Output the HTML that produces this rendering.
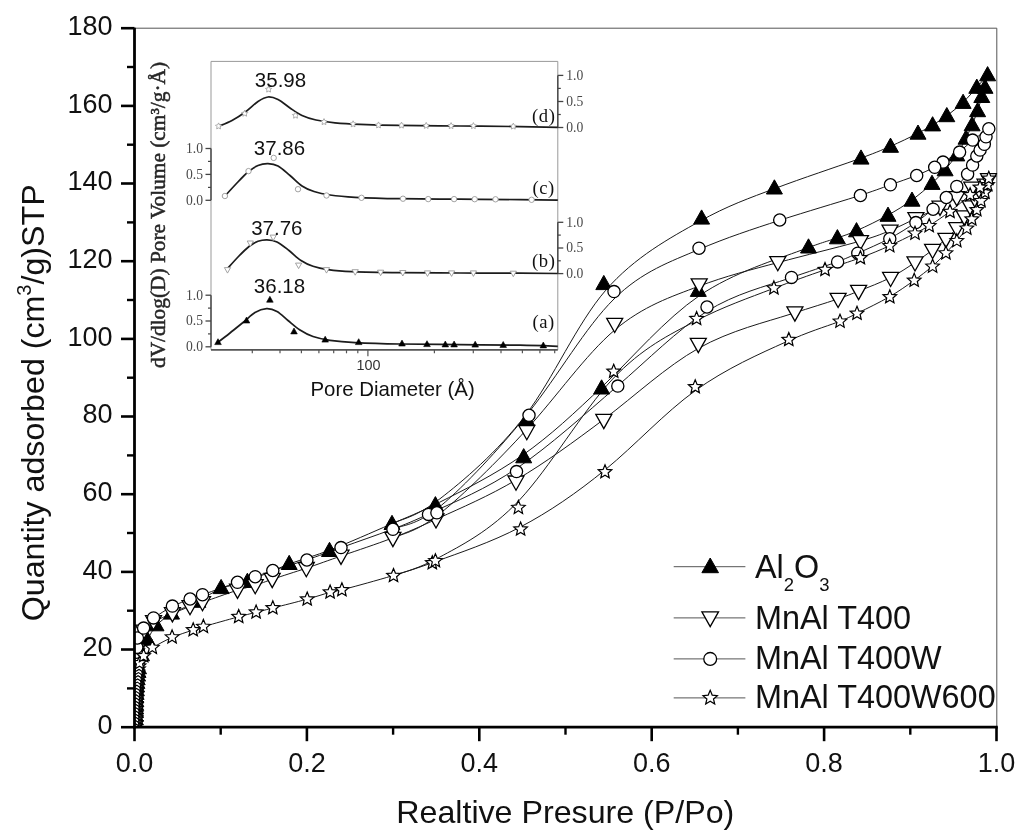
<!DOCTYPE html>
<html><head><meta charset="utf-8"><title>N2 adsorption isotherms</title>
<style>
html,body{margin:0;padding:0;background:#fff;}
body{width:1024px;height:839px;overflow:hidden;position:relative;font-family:"Liberation Sans",sans-serif;}
</style></head><body>
<svg width="1024" height="839" viewBox="0 0 1024 839" style="position:absolute;left:0;top:0;filter:blur(0.55px)">
<rect width="1024" height="839" fill="#fff"/>
<path d="M134.5,28.2 H996.8 V727.2" fill="none" stroke="#555" stroke-width="1"/>
<g id="inset">
<path d="M211.0,349.8 V61.4 H557.8 V349.8" fill="none" stroke="#999" stroke-width="1"/>
<path d="M211.0,349.8 H557.8" fill="none" stroke="#555" stroke-width="1.8"/>
<path d="M252.3,349.8 v3.5" stroke="#555" stroke-width="1.2"/>
<path d="M280.0,349.8 v3.5" stroke="#555" stroke-width="1.2"/>
<path d="M301.4,349.8 v3.5" stroke="#555" stroke-width="1.2"/>
<path d="M318.9,349.8 v3.5" stroke="#555" stroke-width="1.2"/>
<path d="M333.7,349.8 v3.5" stroke="#555" stroke-width="1.2"/>
<path d="M346.5,349.8 v3.5" stroke="#555" stroke-width="1.2"/>
<path d="M357.8,349.8 v3.5" stroke="#555" stroke-width="1.2"/>
<path d="M367.9,349.8 v6.5" stroke="#555" stroke-width="1.2"/>
<path d="M434.4,349.8 v3.5" stroke="#555" stroke-width="1.2"/>
<path d="M473.3,349.8 v3.5" stroke="#555" stroke-width="1.2"/>
<path d="M501.0,349.8 v3.5" stroke="#555" stroke-width="1.2"/>
<path d="M522.4,349.8 v3.5" stroke="#555" stroke-width="1.2"/>
<path d="M539.9,349.8 v3.5" stroke="#555" stroke-width="1.2"/>
<path d="M554.7,349.8 v3.5" stroke="#555" stroke-width="1.2"/>
<text x="368.6" y="370.4" font-family="Liberation Sans, sans-serif" font-size="14.4" fill="#333" text-anchor="middle">100</text>
<text x="392.6" y="396" font-family="Liberation Sans, sans-serif" font-size="20.4" fill="#111" text-anchor="middle">Pore Diameter (Å)</text>
<path d="M211.0,148.5 V200.3" stroke="#444" stroke-width="1.4"/><path d="M211.0,148.5 h-5.5" stroke="#444" stroke-width="1.3"/><text x="203.0" y="152.9" font-family="Liberation Serif, serif" font-size="13.6" fill="#484848" text-anchor="end">1.0</text><path d="M211.0,174.4 h-5.5" stroke="#444" stroke-width="1.3"/><text x="203.0" y="178.8" font-family="Liberation Serif, serif" font-size="13.6" fill="#484848" text-anchor="end">0.5</text><path d="M211.0,200.3 h-5.5" stroke="#444" stroke-width="1.3"/><text x="203.0" y="204.7" font-family="Liberation Serif, serif" font-size="13.6" fill="#484848" text-anchor="end">0.0</text><path d="M211.0,161.4 h-3.0" stroke="#444" stroke-width="1.2"/><path d="M211.0,187.4 h-3.0" stroke="#444" stroke-width="1.2"/>
<path d="M211.0,295.2 V346.8" stroke="#444" stroke-width="1.4"/><path d="M211.0,295.2 h-5.5" stroke="#444" stroke-width="1.3"/><text x="203.0" y="299.6" font-family="Liberation Serif, serif" font-size="13.6" fill="#484848" text-anchor="end">1.0</text><path d="M211.0,321.0 h-5.5" stroke="#444" stroke-width="1.3"/><text x="203.0" y="325.4" font-family="Liberation Serif, serif" font-size="13.6" fill="#484848" text-anchor="end">0.5</text><path d="M211.0,346.8 h-5.5" stroke="#444" stroke-width="1.3"/><text x="203.0" y="351.2" font-family="Liberation Serif, serif" font-size="13.6" fill="#484848" text-anchor="end">0.0</text><path d="M211.0,308.1 h-3.0" stroke="#444" stroke-width="1.2"/><path d="M211.0,333.9 h-3.0" stroke="#444" stroke-width="1.2"/>
<path d="M557.8,75.4 V127.5" stroke="#444" stroke-width="1.4"/><path d="M557.8,75.4 h5.5" stroke="#444" stroke-width="1.3"/><text x="566.3" y="79.8" font-family="Liberation Serif, serif" font-size="13.6" fill="#484848" text-anchor="start">1.0</text><path d="M557.8,101.5 h5.5" stroke="#444" stroke-width="1.3"/><text x="566.3" y="105.9" font-family="Liberation Serif, serif" font-size="13.6" fill="#484848" text-anchor="start">0.5</text><path d="M557.8,127.5 h5.5" stroke="#444" stroke-width="1.3"/><text x="566.3" y="131.9" font-family="Liberation Serif, serif" font-size="13.6" fill="#484848" text-anchor="start">0.0</text><path d="M557.8,88.4 h3.0" stroke="#444" stroke-width="1.2"/><path d="M557.8,114.5 h3.0" stroke="#444" stroke-width="1.2"/>
<path d="M557.8,222.3 V273.6" stroke="#444" stroke-width="1.4"/><path d="M557.8,222.3 h5.5" stroke="#444" stroke-width="1.3"/><text x="566.3" y="226.7" font-family="Liberation Serif, serif" font-size="13.6" fill="#484848" text-anchor="start">1.0</text><path d="M557.8,248.0 h5.5" stroke="#444" stroke-width="1.3"/><text x="566.3" y="252.4" font-family="Liberation Serif, serif" font-size="13.6" fill="#484848" text-anchor="start">0.5</text><path d="M557.8,273.6 h5.5" stroke="#444" stroke-width="1.3"/><text x="566.3" y="278.0" font-family="Liberation Serif, serif" font-size="13.6" fill="#484848" text-anchor="start">0.0</text><path d="M557.8,235.1 h3.0" stroke="#444" stroke-width="1.2"/><path d="M557.8,260.8 h3.0" stroke="#444" stroke-width="1.2"/>
<path d="M218.0,126.5 C220.3,125.5 227.3,123.0 232.0,120.5 C236.7,118.0 241.7,114.7 246.0,111.5 C250.3,108.3 254.3,103.9 258.0,101.5 C261.7,99.1 264.7,97.3 268.0,97.0 C271.3,96.7 274.3,97.7 278.0,99.5 C281.7,101.3 286.0,105.3 290.0,108.0 C294.0,110.7 297.7,113.5 302.0,115.5 C306.3,117.5 310.5,118.8 316.0,120.0 C321.5,121.2 327.7,122.1 335.0,122.8 C342.3,123.5 349.2,123.9 360.0,124.3 C370.8,124.7 383.3,125.1 400.0,125.4 C416.7,125.7 440.0,125.8 460.0,126.0 C480.0,126.2 503.7,126.4 520.0,126.6 C536.3,126.8 551.5,127.2 557.8,127.3" fill="none" stroke="#1c1c1c" stroke-width="1.7"/>
<path d="M225.0,196.0 C226.8,194.0 232.2,188.0 236.0,184.0 C239.8,180.0 244.3,175.1 248.0,172.0 C251.7,168.9 254.7,166.9 258.0,165.5 C261.3,164.1 264.7,163.5 268.0,163.6 C271.3,163.7 274.3,164.0 278.0,166.0 C281.7,168.0 286.0,172.2 290.0,175.5 C294.0,178.8 298.0,183.3 302.0,186.0 C306.0,188.7 309.3,190.0 314.0,191.5 C318.7,193.0 323.2,194.0 330.0,195.0 C336.8,196.0 343.3,196.7 355.0,197.3 C366.7,197.9 382.5,198.4 400.0,198.7 C417.5,199.0 440.0,199.0 460.0,199.2 C480.0,199.3 503.7,199.4 520.0,199.6 C536.3,199.8 551.5,200.1 557.8,200.2" fill="none" stroke="#1c1c1c" stroke-width="1.7"/>
<path d="M227.5,268.6 C229.2,266.7 234.4,260.7 238.0,257.0 C241.6,253.3 245.7,249.1 249.0,246.5 C252.3,243.9 255.0,242.4 258.0,241.3 C261.0,240.2 263.8,239.7 267.0,239.8 C270.2,239.9 273.3,240.2 277.0,242.0 C280.7,243.8 285.0,247.4 289.0,250.5 C293.0,253.6 297.0,257.9 301.0,260.5 C305.0,263.1 308.5,264.8 313.0,266.3 C317.5,267.8 321.5,268.7 328.0,269.6 C334.5,270.5 340.0,271.1 352.0,271.6 C364.0,272.1 382.0,272.4 400.0,272.6 C418.0,272.8 440.0,272.9 460.0,273.0 C480.0,273.1 503.7,273.1 520.0,273.2 C536.3,273.3 551.5,273.4 557.8,273.5" fill="none" stroke="#1c1c1c" stroke-width="1.7"/>
<path d="M217.3,342.8 C219.4,341.2 225.7,336.4 230.0,333.0 C234.3,329.6 238.8,325.9 243.0,322.5 C247.2,319.1 251.1,314.8 255.0,312.5 C258.9,310.2 262.8,308.9 266.5,308.7 C270.2,308.5 273.4,309.5 277.0,311.5 C280.6,313.5 284.2,317.4 288.0,320.5 C291.8,323.6 295.8,327.3 300.0,330.0 C304.2,332.7 308.0,334.8 313.0,336.5 C318.0,338.2 323.0,339.3 330.0,340.3 C337.0,341.3 343.3,342.0 355.0,342.6 C366.7,343.2 382.5,343.7 400.0,344.0 C417.5,344.3 440.0,344.4 460.0,344.6 C480.0,344.8 503.7,344.9 520.0,345.2 C536.3,345.5 551.5,346.1 557.8,346.3" fill="none" stroke="#1c1c1c" stroke-width="1.7"/>
<polygon points="218.6,122.9 219.6,124.9 221.7,125.2 220.2,126.7 220.5,128.9 218.6,127.9 216.7,128.9 217.0,126.7 215.5,125.2 217.6,124.9" fill="#fff" stroke="#999" stroke-width="0.8"/>
<polygon points="244.7,110.2 245.7,112.2 247.8,112.5 246.3,114.0 246.6,116.2 244.7,115.2 242.8,116.2 243.1,114.0 241.6,112.5 243.7,112.2" fill="#fff" stroke="#999" stroke-width="0.8"/>
<polygon points="268.6,86.1 269.6,88.1 271.7,88.4 270.2,89.9 270.5,92.1 268.6,91.1 266.7,92.1 267.0,89.9 265.5,88.4 267.6,88.1" fill="#fff" stroke="#999" stroke-width="0.8"/>
<polygon points="295.5,112.2 296.5,114.2 298.6,114.5 297.1,116.0 297.4,118.2 295.5,117.2 293.6,118.2 293.9,116.0 292.4,114.5 294.5,114.2" fill="#fff" stroke="#999" stroke-width="0.8"/>
<polygon points="324.0,118.6 325.0,120.6 327.1,120.9 325.6,122.4 325.9,124.6 324.0,123.6 322.1,124.6 322.4,122.4 320.9,120.9 323.0,120.6" fill="#fff" stroke="#999" stroke-width="0.8"/>
<polygon points="353.1,120.8 354.1,122.8 356.2,123.1 354.7,124.6 355.0,126.8 353.1,125.8 351.2,126.8 351.5,124.6 350.0,123.1 352.1,122.8" fill="#fff" stroke="#999" stroke-width="0.8"/>
<polygon points="378.5,121.9 379.5,123.9 381.6,124.2 380.1,125.7 380.4,127.9 378.5,126.9 376.6,127.9 376.9,125.7 375.4,124.2 377.5,123.9" fill="#fff" stroke="#999" stroke-width="0.8"/>
<polygon points="401.5,122.1 402.5,124.1 404.6,124.4 403.1,125.9 403.4,128.1 401.5,127.1 399.6,128.1 399.9,125.9 398.4,124.4 400.5,124.1" fill="#fff" stroke="#999" stroke-width="0.8"/>
<polygon points="426.2,122.4 427.2,124.4 429.3,124.7 427.8,126.2 428.1,128.4 426.2,127.4 424.3,128.4 424.6,126.2 423.1,124.7 425.2,124.4" fill="#fff" stroke="#999" stroke-width="0.8"/>
<polygon points="451.1,122.6 452.1,124.6 454.2,124.9 452.7,126.4 453.0,128.6 451.1,127.6 449.2,128.6 449.5,126.4 448.0,124.9 450.1,124.6" fill="#fff" stroke="#999" stroke-width="0.8"/>
<polygon points="473.4,122.6 474.4,124.6 476.5,124.9 475.0,126.4 475.3,128.6 473.4,127.6 471.5,128.6 471.8,126.4 470.3,124.9 472.4,124.6" fill="#fff" stroke="#999" stroke-width="0.8"/>
<polygon points="513.3,123.1 514.3,125.1 516.4,125.4 514.9,126.9 515.2,129.1 513.3,128.1 511.4,129.1 511.7,126.9 510.2,125.4 512.3,125.1" fill="#fff" stroke="#999" stroke-width="0.8"/>
<circle cx="224.9" cy="196.0" r="2.7" fill="#fff" stroke="#999" stroke-width="0.9"/>
<circle cx="248.5" cy="171.1" r="2.7" fill="#fff" stroke="#999" stroke-width="0.9"/>
<circle cx="273.7" cy="157.9" r="2.7" fill="#fff" stroke="#999" stroke-width="0.9"/>
<circle cx="298.0" cy="189.2" r="2.7" fill="#fff" stroke="#999" stroke-width="0.9"/>
<circle cx="326.5" cy="195.5" r="2.7" fill="#fff" stroke="#999" stroke-width="0.9"/>
<circle cx="361.5" cy="197.8" r="2.7" fill="#fff" stroke="#999" stroke-width="0.9"/>
<circle cx="403.0" cy="198.7" r="2.7" fill="#fff" stroke="#999" stroke-width="0.9"/>
<circle cx="428.2" cy="199.1" r="2.7" fill="#fff" stroke="#999" stroke-width="0.9"/>
<circle cx="454.1" cy="199.1" r="2.7" fill="#fff" stroke="#999" stroke-width="0.9"/>
<circle cx="474.7" cy="199.2" r="2.7" fill="#fff" stroke="#999" stroke-width="0.9"/>
<circle cx="495.5" cy="199.3" r="2.7" fill="#fff" stroke="#999" stroke-width="0.9"/>
<circle cx="531.6" cy="199.8" r="2.7" fill="#fff" stroke="#999" stroke-width="0.9"/>
<path d="M227.5,273.1 L230.6,267.6 L224.4,267.6 Z" fill="#fff" stroke="#999" stroke-width="0.9"/>
<path d="M250.3,246.5 L253.4,241.0 L247.2,241.0 Z" fill="#fff" stroke="#999" stroke-width="0.9"/>
<path d="M273.2,240.6 L276.3,235.1 L270.1,235.1 Z" fill="#fff" stroke="#999" stroke-width="0.9"/>
<path d="M298.6,268.6 L301.7,263.1 L295.5,263.1 Z" fill="#fff" stroke="#999" stroke-width="0.9"/>
<path d="M326.5,273.1 L329.6,267.6 L323.4,267.6 Z" fill="#fff" stroke="#999" stroke-width="0.9"/>
<path d="M355.2,275.2 L358.3,269.7 L352.1,269.7 Z" fill="#fff" stroke="#999" stroke-width="0.9"/>
<path d="M380.6,275.7 L383.7,270.2 L377.5,270.2 Z" fill="#fff" stroke="#999" stroke-width="0.9"/>
<path d="M402.8,276.0 L405.9,270.5 L399.7,270.5 Z" fill="#fff" stroke="#999" stroke-width="0.9"/>
<path d="M427.5,276.4 L430.6,270.9 L424.4,270.9 Z" fill="#fff" stroke="#999" stroke-width="0.9"/>
<path d="M451.6,276.4 L454.7,270.9 L448.5,270.9 Z" fill="#fff" stroke="#999" stroke-width="0.9"/>
<path d="M473.4,276.4 L476.5,270.9 L470.3,270.9 Z" fill="#fff" stroke="#999" stroke-width="0.9"/>
<path d="M513.3,276.7 L516.4,271.2 L510.2,271.2 Z" fill="#fff" stroke="#999" stroke-width="0.9"/>
<path d="M218.0,338.7 L221.3,344.6 L214.7,344.6 Z" fill="#000" stroke="#000" stroke-width="0.6"/>
<path d="M246.5,317.1 L249.8,323.0 L243.2,323.0 Z" fill="#000" stroke="#000" stroke-width="0.6"/>
<path d="M269.9,296.3 L273.2,302.2 L266.6,302.2 Z" fill="#000" stroke="#000" stroke-width="0.6"/>
<path d="M294.0,328.0 L297.3,333.9 L290.7,333.9 Z" fill="#000" stroke="#000" stroke-width="0.6"/>
<path d="M325.2,336.2 L328.5,342.1 L321.9,342.1 Z" fill="#000" stroke="#000" stroke-width="0.6"/>
<path d="M358.7,338.7 L362.0,344.6 L355.4,344.6 Z" fill="#000" stroke="#000" stroke-width="0.6"/>
<path d="M402.0,340.1 L405.3,346.0 L398.7,346.0 Z" fill="#000" stroke="#000" stroke-width="0.6"/>
<path d="M427.0,340.7 L430.3,346.6 L423.7,346.6 Z" fill="#000" stroke="#000" stroke-width="0.6"/>
<path d="M445.3,341.0 L448.6,346.9 L442.0,346.9 Z" fill="#000" stroke="#000" stroke-width="0.6"/>
<path d="M454.1,341.0 L457.4,346.9 L450.8,346.9 Z" fill="#000" stroke="#000" stroke-width="0.6"/>
<path d="M475.2,341.2 L478.5,347.1 L471.9,347.1 Z" fill="#000" stroke="#000" stroke-width="0.6"/>
<path d="M503.2,341.5 L506.5,347.4 L499.9,347.4 Z" fill="#000" stroke="#000" stroke-width="0.6"/>
<path d="M543.3,342.0 L546.6,347.9 L540.0,347.9 Z" fill="#000" stroke="#000" stroke-width="0.6"/>
<text x="280.5" y="87.3" font-family="Liberation Sans, sans-serif" font-size="20.5" fill="#111" text-anchor="middle">35.98</text>
<text x="279.5" y="155.4" font-family="Liberation Sans, sans-serif" font-size="20.5" fill="#111" text-anchor="middle">37.86</text>
<text x="276.8" y="235.2" font-family="Liberation Sans, sans-serif" font-size="20.5" fill="#111" text-anchor="middle">37.76</text>
<text x="279.5" y="292.6" font-family="Liberation Sans, sans-serif" font-size="20.5" fill="#111" text-anchor="middle">36.18</text>
<text x="543.7" y="121.5" font-family="Liberation Serif, serif" font-size="18.6" fill="#111" text-anchor="middle" letter-spacing="0.6">(d)</text>
<text x="543.7" y="194.0" font-family="Liberation Serif, serif" font-size="18.6" fill="#111" text-anchor="middle" letter-spacing="0.6">(c)</text>
<text x="543.7" y="266.5" font-family="Liberation Serif, serif" font-size="18.6" fill="#111" text-anchor="middle" letter-spacing="0.6">(b)</text>
<text x="543.7" y="328.0" font-family="Liberation Serif, serif" font-size="18.6" fill="#111" text-anchor="middle" letter-spacing="0.6">(a)</text>
<text transform="translate(165.3,215) rotate(-90)" font-family="Liberation Serif, serif" font-size="20.7" fill="#262626" stroke="#262626" stroke-width="0.5" textLength="306" lengthAdjust="spacingAndGlyphs" text-anchor="middle">dV/dlog(D) Pore Volume (cm³/g·Å)</text>
</g>
<defs><clipPath id="plotclip"><rect x="134.5" y="28.2" width="862.8" height="699.0"/></clipPath></defs>
<g id="series" clip-path="url(#plotclip)">
<path d="M135.4,726.2 C135.4,725.6 135.4,724.1 135.4,722.8 C135.4,721.6 135.4,720.4 135.4,719.2 C135.4,718.0 135.4,716.8 135.4,715.5 C135.5,714.3 135.5,713.1 135.5,711.9 C135.5,710.7 135.5,709.4 135.6,708.2 C135.6,707.0 135.6,705.8 135.7,704.6 C135.7,703.3 135.7,702.1 135.8,700.9 C135.8,699.7 135.9,698.5 136.0,697.2 C136.0,696.0 136.1,694.8 136.1,693.6 C136.2,692.4 136.3,691.2 136.4,689.9 C136.4,688.7 136.5,687.5 136.6,686.3 C136.7,685.1 136.8,683.8 136.9,682.6 C137.0,681.4 137.1,680.2 137.2,679.0 C137.4,677.8 137.5,676.5 137.6,675.3 C137.8,674.1 137.9,672.9 138.0,671.7 C138.2,670.4 138.2,669.9 138.7,667.1 C139.3,664.4 140.3,659.5 141.8,654.8 C143.2,650.0 145.1,644.7 147.6,639.7 C150.0,634.7 152.6,629.6 156.6,625.3 C160.7,620.9 165.5,617.2 172.5,613.3 C179.5,609.4 189.3,605.6 197.5,601.3 C205.8,597.1 213.1,591.8 221.4,588.5 C229.6,585.2 237.5,584.5 248.8,580.5 C260.2,576.5 275.4,569.3 289.1,564.1 C302.7,559.0 314.4,556.1 331.5,549.4 C348.7,542.8 372.6,532.1 390.2,524.5 C407.9,516.8 417.6,513.4 439.5,502.3 C461.5,491.2 495.0,474.6 522.7,455.1 C550.4,435.6 574.2,413.3 603.3,385.6 C632.4,357.8 665.1,319.1 699.5,295.6 C734.0,272.1 777.9,259.1 801.0,250.3 C824.2,241.6 828.5,240.9 836.5,238.2 C844.5,235.5 849.2,234.0 857.6,230.2 C866.1,226.5 878.1,220.6 887.3,215.5 C896.6,210.4 904.3,205.6 911.6,200.2 C919.0,194.9 925.9,189.0 931.4,183.9 C936.9,178.8 940.8,174.6 945.0,169.9 C949.1,165.1 953.1,160.2 956.6,154.9 C960.1,149.7 963.2,143.7 965.7,138.7 C968.3,133.7 970.1,129.5 972.0,124.9 C974.0,120.4 975.9,115.6 977.5,110.9 C979.1,106.2 980.5,101.1 981.7,97.2 C982.9,93.3 984.0,90.8 984.9,87.2 C985.9,83.6 986.9,78.2 987.4,76.1" fill="none" stroke="#1a1a1a" stroke-width="1"/>
<path d="M986.6,76.1 C984.8,78.2 980.6,83.1 976.5,87.7 C972.5,92.3 967.9,97.7 962.9,102.4 C957.9,107.2 952.1,111.8 947.0,115.5 C941.9,119.3 937.4,122.1 932.6,125.0 C927.8,127.9 923.8,130.3 916.8,133.8 C909.8,137.4 899.8,142.2 890.3,146.4 C880.8,150.5 875.1,153.0 855.8,160.0 C836.4,166.9 802.2,178.2 775.7,188.2 C749.1,198.2 727.7,205.6 699.3,221.5 C670.9,237.5 634.8,256.7 605.7,290.3 C576.6,323.9 553.5,378.4 525.5,415.2 C497.4,452.1 462.3,481.6 439.8,498.9 C417.3,516.2 403.2,518.9 396.0,522.0" fill="none" stroke="#1a1a1a" stroke-width="1"/>
<path d="M135.0,726.1 C135.0,725.3 135.0,723.3 135.0,721.7 C135.0,720.1 135.0,718.5 135.0,716.9 C135.0,715.3 135.0,713.8 135.0,712.2 C135.0,710.6 135.0,709.0 135.1,707.4 C135.1,705.8 135.1,704.2 135.1,702.6 C135.1,701.0 135.1,699.4 135.2,697.8 C135.2,696.2 135.2,694.6 135.2,693.0 C135.3,691.4 135.3,689.8 135.3,688.2 C135.4,686.7 135.4,685.1 135.4,683.5 C135.5,681.9 135.5,680.3 135.6,678.7 C135.6,677.1 135.7,675.5 135.7,673.9 C135.8,672.3 135.8,670.7 135.9,669.1 C135.9,667.5 136.0,665.9 136.1,664.3 C136.1,662.8 136.2,661.2 136.3,659.6 C136.4,658.0 136.4,656.4 136.5,654.8 C136.6,653.2 136.7,651.9 136.8,649.6 C137.0,647.3 136.8,644.1 137.9,640.9 C139.0,637.7 141.3,634.3 143.9,631.0 C146.6,627.8 149.5,624.6 154.3,621.6 C159.1,618.7 166.2,616.1 172.3,613.6 C178.4,611.1 184.5,608.5 189.5,606.7 C194.5,604.8 196.6,604.4 204.6,601.6 C212.5,598.9 227.1,593.5 235.9,590.7 C244.7,587.9 249.4,587.1 255.1,585.3 C260.9,583.5 265.3,581.6 273.8,578.8 C282.3,575.9 294.9,572.0 306.4,568.2 C317.8,564.3 328.1,560.5 342.6,555.5 C357.0,550.5 376.3,544.2 392.1,538.1 C407.9,532.1 418.9,527.2 439.4,517.8 C459.9,508.4 488.7,496.2 516.7,479.6 C544.7,463.1 574.0,441.8 604.4,418.9 C634.8,395.9 666.6,366.2 698.5,348.3 C730.3,330.4 766.7,321.9 790.0,314.3 C813.3,306.8 825.4,303.2 836.0,299.6 C846.6,296.0 850.9,294.2 859.7,290.7 C868.4,287.2 880.5,282.6 889.9,277.9 C899.3,273.1 907.4,267.5 914.4,262.9 C921.4,258.2 927.1,254.1 932.2,250.2 C937.4,246.3 941.6,242.8 945.7,239.2 C949.7,235.6 953.4,232.1 956.5,228.3 C959.6,224.6 961.9,220.5 964.1,216.9 C966.4,213.2 968.2,209.9 970.0,206.9 C971.8,204.0 973.4,201.6 975.0,199.0 C976.7,196.5 978.3,193.9 980.0,191.6 C981.7,189.3 983.4,187.1 984.9,185.1 C986.3,183.1 987.6,180.9 988.2,180.0" fill="none" stroke="#1a1a1a" stroke-width="1"/>
<path d="M987.0,180.3 C984.2,181.7 977.2,185.1 972.0,188.1 C966.7,191.1 961.9,194.3 956.6,197.5 C951.3,200.7 946.1,203.7 939.3,207.2 C932.5,210.7 924.1,214.5 915.7,218.5 C907.4,222.5 898.9,226.9 889.7,230.7 C880.4,234.6 874.2,237.1 855.5,242.4 C836.8,247.6 805.0,255.3 778.2,262.5 C751.3,269.7 725.8,276.0 698.7,286.3 C671.5,296.6 643.1,305.9 614.4,330.3 C585.7,354.7 556.3,397.0 526.5,429.6 C496.8,462.2 462.7,495.4 440.4,513.2 C418.1,531.0 404.0,533.4 396.9,536.5" fill="none" stroke="#1a1a1a" stroke-width="1"/>
<path d="M135.0,726.0 C135.0,725.2 135.0,723.2 135.0,721.5 C135.0,719.9 135.0,718.2 135.0,716.6 C135.0,714.9 135.0,713.3 135.0,711.6 C135.0,710.0 135.0,708.4 135.1,706.7 C135.1,705.1 135.1,703.4 135.1,701.8 C135.1,700.1 135.1,698.4 135.2,696.8 C135.2,695.1 135.2,693.5 135.2,691.8 C135.3,690.2 135.3,688.5 135.3,686.9 C135.4,685.2 135.4,683.6 135.4,681.9 C135.5,680.3 135.5,678.6 135.6,677.0 C135.6,675.4 135.7,673.7 135.7,672.0 C135.8,670.4 135.8,668.7 135.9,667.1 C135.9,665.4 136.0,663.8 136.1,662.1 C136.1,660.5 136.2,658.8 136.3,657.2 C136.4,655.5 136.4,653.9 136.5,652.2 C136.6,650.6 136.7,649.3 136.8,646.9 C137.0,644.5 136.8,641.1 137.9,637.9 C139.0,634.7 141.3,631.4 143.9,628.1 C146.6,624.7 149.5,621.4 154.3,617.8 C159.1,614.1 166.2,609.7 172.3,606.5 C178.4,603.4 184.6,601.2 189.6,599.3 C194.6,597.4 196.7,596.7 204.6,594.0 C212.5,591.2 227.1,585.9 235.9,582.9 C244.7,579.9 249.3,578.6 255.2,576.6 C261.1,574.7 265.7,572.9 274.3,570.1 C282.9,567.3 295.5,563.6 306.9,559.8 C318.3,556.0 328.3,552.2 342.6,547.1 C357.0,541.9 376.8,535.1 391.4,529.6 C406.0,524.1 412.7,521.5 433.3,511.8 C453.9,502.2 486.2,489.1 517.7,467.7 C549.3,446.3 584.9,414.1 616.7,386.7 C648.4,359.3 677.6,329.7 706.6,311.5 C735.5,293.4 766.2,286.2 788.0,278.7 C809.7,271.2 824.2,266.6 835.2,262.5 C846.3,258.5 850.2,256.5 858.9,252.7 C867.6,248.8 879.6,243.7 889.3,238.6 C898.9,233.5 907.9,227.8 915.1,222.9 C922.3,217.9 927.7,213.5 932.7,209.4 C937.8,205.2 942.1,201.4 946.1,197.6 C950.0,193.8 953.3,190.2 956.8,186.3 C960.4,182.4 964.4,178.0 967.1,174.5 C969.7,170.9 971.0,168.1 972.5,165.1 C974.1,162.1 975.5,158.8 976.7,156.3 C978.0,153.8 978.9,152.1 980.2,150.1 C981.4,148.2 983.1,146.4 984.1,144.1 C985.1,141.9 985.4,139.3 986.1,136.8 C986.9,134.2 988.1,130.9 988.5,129.5" fill="none" stroke="#1a1a1a" stroke-width="1"/>
<path d="M987.3,129.8 C984.6,131.7 977.8,136.3 972.9,140.2 C968.0,144.0 964.2,148.2 959.3,151.9 C954.3,155.6 947.9,159.1 943.8,161.7 C939.6,164.2 938.2,165.3 933.8,167.6 C929.4,169.8 923.3,172.7 915.9,175.6 C908.6,178.5 899.4,181.6 890.1,184.9 C880.7,188.3 874.2,190.9 855.8,196.8 C837.3,202.6 806.6,211.6 779.7,220.3 C752.8,229.1 726.2,237.7 698.6,249.6 C671.0,261.5 642.3,271.1 614.0,299.0 C585.7,326.8 557.9,376.0 528.3,412.9 C498.8,449.8 464.0,486.4 441.3,505.4 C418.6,524.4 404.3,525.0 396.9,527.8" fill="none" stroke="#1a1a1a" stroke-width="1"/>
<path d="M135.0,726.2 C135.0,725.7 135.0,724.4 135.0,723.3 C135.0,722.3 135.0,721.2 135.0,720.2 C135.0,719.1 135.0,718.0 135.0,717.0 C135.1,715.9 135.1,714.9 135.1,713.8 C135.1,712.7 135.1,711.7 135.1,710.6 C135.2,709.6 135.2,708.5 135.2,707.4 C135.3,706.4 135.3,705.3 135.3,704.3 C135.4,703.2 135.4,702.2 135.5,701.1 C135.5,700.0 135.6,699.0 135.6,697.9 C135.7,696.9 135.7,695.8 135.8,694.8 C135.9,693.7 135.9,692.6 136.0,691.6 C136.1,690.5 136.2,689.5 136.3,688.4 C136.3,687.3 136.4,686.3 136.5,685.2 C136.6,684.2 136.7,683.1 136.8,682.0 C137.0,681.0 137.1,679.9 137.2,678.9 C137.3,677.8 137.4,676.8 137.6,675.7 C137.7,674.6 137.9,673.6 138.0,672.5 C138.1,671.5 138.3,670.4 138.5,669.4 C138.6,668.3 138.8,667.2 139.0,666.2 C139.1,665.1 139.1,664.3 139.8,662.6 C140.6,661.0 141.9,658.4 144.0,655.9 C146.2,653.3 148.6,650.6 153.3,647.4 C158.1,644.3 165.4,640.3 172.2,637.4 C179.0,634.5 187.0,632.1 192.2,630.3 C197.4,628.6 198.1,628.2 205.7,626.0 C213.3,623.8 228.3,619.6 237.1,617.2 C245.8,614.8 250.4,613.8 256.0,612.3 C261.7,610.9 265.9,609.8 274.4,607.6 C282.9,605.4 296.6,602.1 306.1,599.4 C315.7,596.8 323.3,594.2 329.1,592.6 C334.9,591.1 335.0,591.6 345.5,588.9 C356.1,586.1 377.3,580.3 392.3,575.8 C407.4,571.3 415.7,568.8 436.8,561.1 C458.0,553.3 491.5,542.3 520.2,527.1 C549.0,512.0 576.4,493.2 605.5,469.5 C634.6,445.7 664.9,412.5 695.5,390.5 C726.1,368.4 760.8,353.3 784.9,342.4 C809.0,331.4 825.5,326.7 836.9,322.4 C848.2,318.0 850.1,316.8 858.4,312.7 C866.7,308.6 879.5,302.5 889.0,297.0 C898.6,291.5 906.5,285.8 913.7,280.7 C920.8,275.6 926.8,271.0 932.1,266.5 C937.4,261.9 941.6,257.5 945.7,253.2 C949.7,249.0 953.2,245.0 956.7,240.9 C960.2,236.8 963.8,232.3 966.3,228.7 C968.8,225.1 970.1,222.3 971.8,219.2 C973.5,216.1 975.2,213.1 976.7,210.0 C978.3,207.0 979.6,203.9 981.0,201.0 C982.3,198.0 983.8,195.2 984.9,192.6 C986.0,189.9 986.8,187.4 987.5,185.1 C988.1,182.8 988.5,180.2 988.7,179.1" fill="none" stroke="#1a1a1a" stroke-width="1"/>
<path d="M988.0,179.3 C986.5,180.8 983.0,184.6 979.9,187.4 C976.8,190.1 974.2,191.8 969.2,195.8 C964.2,199.9 956.8,206.3 949.9,211.5 C943.1,216.6 935.6,221.7 929.8,225.3 C924.0,228.9 920.6,230.5 914.0,233.9 C907.4,237.2 898.4,241.8 889.3,245.9 C880.2,250.0 870.6,254.0 859.8,258.0 C849.1,261.9 838.0,265.3 823.6,270.3 C809.1,275.3 792.9,281.0 771.5,289.2 C750.1,297.4 722.8,306.9 696.1,320.8 C669.4,334.7 642.3,347.7 612.6,379.1 C582.9,410.6 549.2,468.4 519.5,500.0 C489.8,531.6 460.0,546.0 439.2,557.4 C418.4,568.7 404.3,571.9 397.3,574.3" fill="none" stroke="#1a1a1a" stroke-width="1"/>
<path d="M135.4,718.1 L143.4,732.3 L127.4,732.3 Z" fill="#000" stroke="#000" stroke-width="1"/>
<path d="M135.4,714.4 L143.4,728.6 L127.4,728.6 Z" fill="#000" stroke="#000" stroke-width="1"/>
<path d="M135.4,710.8 L143.4,724.9 L127.4,724.9 Z" fill="#000" stroke="#000" stroke-width="1"/>
<path d="M135.4,707.1 L143.4,721.3 L127.4,721.3 Z" fill="#000" stroke="#000" stroke-width="1"/>
<path d="M135.5,703.5 L143.5,717.6 L127.5,717.6 Z" fill="#000" stroke="#000" stroke-width="1"/>
<path d="M135.6,699.8 L143.6,714.0 L127.6,714.0 Z" fill="#000" stroke="#000" stroke-width="1"/>
<path d="M135.7,696.2 L143.7,710.3 L127.7,710.3 Z" fill="#000" stroke="#000" stroke-width="1"/>
<path d="M135.8,692.5 L143.8,706.7 L127.8,706.7 Z" fill="#000" stroke="#000" stroke-width="1"/>
<path d="M135.9,688.9 L143.9,703.0 L127.9,703.0 Z" fill="#000" stroke="#000" stroke-width="1"/>
<path d="M136.1,685.2 L144.1,699.4 L128.1,699.4 Z" fill="#000" stroke="#000" stroke-width="1"/>
<path d="M136.4,681.5 L144.4,695.7 L128.4,695.7 Z" fill="#000" stroke="#000" stroke-width="1"/>
<path d="M136.6,677.9 L144.6,692.0 L128.6,692.0 Z" fill="#000" stroke="#000" stroke-width="1"/>
<path d="M136.9,674.2 L144.9,688.4 L128.9,688.4 Z" fill="#000" stroke="#000" stroke-width="1"/>
<path d="M137.2,670.6 L145.2,684.7 L129.2,684.7 Z" fill="#000" stroke="#000" stroke-width="1"/>
<path d="M137.6,666.9 L145.6,681.1 L129.6,681.1 Z" fill="#000" stroke="#000" stroke-width="1"/>
<path d="M138.0,663.3 L146.0,677.4 L130.0,677.4 Z" fill="#000" stroke="#000" stroke-width="1"/>
<path d="M138.5,659.6 L146.5,673.8 L130.5,673.8 Z" fill="#000" stroke="#000" stroke-width="1"/>
<path d="M141.5,646.6 L149.5,660.8 L133.5,660.8 Z" fill="#000" stroke="#000" stroke-width="1"/>
<path d="M147.3,631.2 L155.3,645.4 L139.3,645.4 Z" fill="#000" stroke="#000" stroke-width="1"/>
<path d="M156.0,616.6 L164.0,630.8 L148.0,630.8 Z" fill="#000" stroke="#000" stroke-width="1"/>
<path d="M171.5,604.9 L179.5,619.1 L163.5,619.1 Z" fill="#000" stroke="#000" stroke-width="1"/>
<path d="M197.8,593.1 L205.8,607.3 L189.8,607.3 Z" fill="#000" stroke="#000" stroke-width="1"/>
<path d="M221.1,579.4 L229.1,593.6 L213.1,593.6 Z" fill="#000" stroke="#000" stroke-width="1"/>
<path d="M247.4,573.2 L255.4,587.4 L239.4,587.4 Z" fill="#000" stroke="#000" stroke-width="1"/>
<path d="M289.2,555.3 L297.2,569.5 L281.2,569.5 Z" fill="#000" stroke="#000" stroke-width="1"/>
<path d="M329.5,542.3 L337.5,556.5 L321.5,556.5 Z" fill="#000" stroke="#000" stroke-width="1"/>
<path d="M392.0,515.3 L400.0,529.5 L384.0,529.5 Z" fill="#000" stroke="#000" stroke-width="1"/>
<path d="M435.4,496.6 L443.4,510.8 L427.4,510.8 Z" fill="#000" stroke="#000" stroke-width="1"/>
<path d="M523.7,448.6 L531.7,462.8 L515.7,462.8 Z" fill="#000" stroke="#000" stroke-width="1"/>
<path d="M601.6,379.8 L609.6,394.0 L593.6,394.0 Z" fill="#000" stroke="#000" stroke-width="1"/>
<path d="M698.3,282.2 L706.3,296.4 L690.3,296.4 Z" fill="#000" stroke="#000" stroke-width="1"/>
<path d="M808.5,238.8 L816.5,253.0 L800.5,253.0 Z" fill="#000" stroke="#000" stroke-width="1"/>
<path d="M837.4,229.6 L845.4,243.8 L829.4,243.8 Z" fill="#000" stroke="#000" stroke-width="1"/>
<path d="M856.5,222.6 L864.5,236.8 L848.5,236.8 Z" fill="#000" stroke="#000" stroke-width="1"/>
<path d="M888.0,207.1 L896.0,221.3 L880.0,221.3 Z" fill="#000" stroke="#000" stroke-width="1"/>
<path d="M912.0,192.0 L920.0,206.2 L904.0,206.2 Z" fill="#000" stroke="#000" stroke-width="1"/>
<path d="M932.0,175.2 L940.0,189.4 L924.0,189.4 Z" fill="#000" stroke="#000" stroke-width="1"/>
<path d="M945.1,161.6 L953.1,175.8 L937.1,175.8 Z" fill="#000" stroke="#000" stroke-width="1"/>
<path d="M956.8,146.7 L964.8,160.9 L948.8,160.9 Z" fill="#000" stroke="#000" stroke-width="1"/>
<path d="M966.0,130.0 L974.0,144.2 L958.0,144.2 Z" fill="#000" stroke="#000" stroke-width="1"/>
<path d="M972.1,116.6 L980.1,130.8 L964.1,130.8 Z" fill="#000" stroke="#000" stroke-width="1"/>
<path d="M977.6,102.5 L985.6,116.7 L969.6,116.7 Z" fill="#000" stroke="#000" stroke-width="1"/>
<path d="M981.8,88.3 L989.8,102.5 L973.8,102.5 Z" fill="#000" stroke="#000" stroke-width="1"/>
<path d="M985.0,79.1 L993.0,93.3 L977.0,93.3 Z" fill="#000" stroke="#000" stroke-width="1"/>
<path d="M987.6,66.6 L995.6,80.8 L979.6,80.8 Z" fill="#000" stroke="#000" stroke-width="1"/>
<path d="M976.8,79.1 L984.8,93.3 L968.8,93.3 Z" fill="#000" stroke="#000" stroke-width="1"/>
<path d="M963.1,94.2 L971.1,108.4 L955.1,108.4 Z" fill="#000" stroke="#000" stroke-width="1"/>
<path d="M946.8,107.5 L954.8,121.7 L938.8,121.7 Z" fill="#000" stroke="#000" stroke-width="1"/>
<path d="M932.6,116.7 L940.6,130.9 L924.6,130.9 Z" fill="#000" stroke="#000" stroke-width="1"/>
<path d="M918.0,125.0 L926.0,139.2 L910.0,139.2 Z" fill="#000" stroke="#000" stroke-width="1"/>
<path d="M890.5,138.1 L898.5,152.3 L882.5,152.3 Z" fill="#000" stroke="#000" stroke-width="1"/>
<path d="M861.0,149.9 L869.0,164.1 L853.0,164.1 Z" fill="#000" stroke="#000" stroke-width="1"/>
<path d="M774.4,179.8 L782.4,194.0 L766.4,194.0 Z" fill="#000" stroke="#000" stroke-width="1"/>
<path d="M701.6,209.9 L709.6,224.1 L693.6,224.1 Z" fill="#000" stroke="#000" stroke-width="1"/>
<path d="M603.8,275.4 L611.8,289.6 L595.8,289.6 Z" fill="#000" stroke="#000" stroke-width="1"/>
<path d="M526.8,411.5 L534.8,425.7 L518.8,425.7 Z" fill="#000" stroke="#000" stroke-width="1"/>
<path d="M135.0,734.9 L143.0,720.7 L127.0,720.7 Z" fill="#fff" stroke="#000" stroke-width="1.3"/>
<path d="M135.0,730.1 L143.0,716.0 L127.0,716.0 Z" fill="#fff" stroke="#000" stroke-width="1.3"/>
<path d="M135.0,725.3 L143.0,711.2 L127.0,711.2 Z" fill="#fff" stroke="#000" stroke-width="1.3"/>
<path d="M135.0,720.6 L143.0,706.4 L127.0,706.4 Z" fill="#fff" stroke="#000" stroke-width="1.3"/>
<path d="M135.1,715.8 L143.1,701.6 L127.1,701.6 Z" fill="#fff" stroke="#000" stroke-width="1.3"/>
<path d="M135.1,711.0 L143.1,696.8 L127.1,696.8 Z" fill="#fff" stroke="#000" stroke-width="1.3"/>
<path d="M135.2,706.2 L143.2,692.1 L127.2,692.1 Z" fill="#fff" stroke="#000" stroke-width="1.3"/>
<path d="M135.2,701.4 L143.2,687.3 L127.2,687.3 Z" fill="#fff" stroke="#000" stroke-width="1.3"/>
<path d="M135.3,696.6 L143.3,682.5 L127.3,682.5 Z" fill="#fff" stroke="#000" stroke-width="1.3"/>
<path d="M135.4,691.9 L143.4,677.7 L127.4,677.7 Z" fill="#fff" stroke="#000" stroke-width="1.3"/>
<path d="M135.6,687.1 L143.6,672.9 L127.6,672.9 Z" fill="#fff" stroke="#000" stroke-width="1.3"/>
<path d="M135.7,682.3 L143.7,668.1 L127.7,668.1 Z" fill="#fff" stroke="#000" stroke-width="1.3"/>
<path d="M135.9,677.5 L143.9,663.4 L127.9,663.4 Z" fill="#fff" stroke="#000" stroke-width="1.3"/>
<path d="M136.1,672.7 L144.1,658.6 L128.1,658.6 Z" fill="#fff" stroke="#000" stroke-width="1.3"/>
<path d="M136.3,668.0 L144.3,653.8 L128.3,653.8 Z" fill="#fff" stroke="#000" stroke-width="1.3"/>
<path d="M136.5,663.2 L144.5,649.0 L128.5,649.0 Z" fill="#fff" stroke="#000" stroke-width="1.3"/>
<path d="M136.8,658.4 L144.8,644.2 L128.8,644.2 Z" fill="#fff" stroke="#000" stroke-width="1.3"/>
<path d="M137.4,649.4 L145.4,635.2 L129.4,635.2 Z" fill="#fff" stroke="#000" stroke-width="1.3"/>
<path d="M143.6,639.4 L151.6,625.2 L135.6,625.2 Z" fill="#fff" stroke="#000" stroke-width="1.3"/>
<path d="M153.5,629.9 L161.5,615.7 L145.5,615.7 Z" fill="#fff" stroke="#000" stroke-width="1.3"/>
<path d="M172.4,621.9 L180.4,607.7 L164.4,607.7 Z" fill="#fff" stroke="#000" stroke-width="1.3"/>
<path d="M190.0,614.8 L198.0,600.6 L182.0,600.6 Z" fill="#fff" stroke="#000" stroke-width="1.3"/>
<path d="M202.5,610.8 L210.5,596.6 L194.5,596.6 Z" fill="#fff" stroke="#000" stroke-width="1.3"/>
<path d="M237.5,598.4 L245.5,584.2 L229.5,584.2 Z" fill="#fff" stroke="#000" stroke-width="1.3"/>
<path d="M255.2,593.8 L263.2,579.6 L247.2,579.6 Z" fill="#fff" stroke="#000" stroke-width="1.3"/>
<path d="M272.2,587.6 L280.2,573.4 L264.2,573.4 Z" fill="#fff" stroke="#000" stroke-width="1.3"/>
<path d="M306.3,576.7 L314.3,562.5 L298.3,562.5 Z" fill="#fff" stroke="#000" stroke-width="1.3"/>
<path d="M341.0,564.4 L349.0,550.2 L333.0,550.2 Z" fill="#fff" stroke="#000" stroke-width="1.3"/>
<path d="M392.9,546.6 L400.9,532.4 L384.9,532.4 Z" fill="#fff" stroke="#000" stroke-width="1.3"/>
<path d="M436.0,528.0 L444.0,513.8 L428.0,513.8 Z" fill="#fff" stroke="#000" stroke-width="1.3"/>
<path d="M516.0,490.2 L524.0,476.0 L508.0,476.0 Z" fill="#fff" stroke="#000" stroke-width="1.3"/>
<path d="M603.8,428.6 L611.8,414.4 L595.8,414.4 Z" fill="#fff" stroke="#000" stroke-width="1.3"/>
<path d="M698.3,352.6 L706.3,338.4 L690.3,338.4 Z" fill="#fff" stroke="#000" stroke-width="1.3"/>
<path d="M794.9,321.1 L802.9,306.9 L786.9,306.9 Z" fill="#fff" stroke="#000" stroke-width="1.3"/>
<path d="M838.1,307.5 L846.1,293.3 L830.1,293.3 Z" fill="#fff" stroke="#000" stroke-width="1.3"/>
<path d="M858.6,299.6 L866.6,285.4 L850.6,285.4 Z" fill="#fff" stroke="#000" stroke-width="1.3"/>
<path d="M890.6,286.5 L898.6,272.3 L882.6,272.3 Z" fill="#fff" stroke="#000" stroke-width="1.3"/>
<path d="M915.0,271.0 L923.0,256.8 L907.0,256.8 Z" fill="#fff" stroke="#000" stroke-width="1.3"/>
<path d="M932.6,258.5 L940.6,244.3 L924.6,244.3 Z" fill="#fff" stroke="#000" stroke-width="1.3"/>
<path d="M945.9,247.6 L953.9,233.4 L937.9,233.4 Z" fill="#fff" stroke="#000" stroke-width="1.3"/>
<path d="M956.8,236.8 L964.8,222.6 L948.8,222.6 Z" fill="#fff" stroke="#000" stroke-width="1.3"/>
<path d="M964.3,225.1 L972.3,210.9 L956.3,210.9 Z" fill="#fff" stroke="#000" stroke-width="1.3"/>
<path d="M970.1,215.1 L978.1,200.9 L962.1,200.9 Z" fill="#fff" stroke="#000" stroke-width="1.3"/>
<path d="M975.0,207.4 L983.0,193.2 L967.0,193.2 Z" fill="#fff" stroke="#000" stroke-width="1.3"/>
<path d="M980.0,199.9 L988.0,185.7 L972.0,185.7 Z" fill="#fff" stroke="#000" stroke-width="1.3"/>
<path d="M985.0,193.4 L993.0,179.2 L977.0,179.2 Z" fill="#fff" stroke="#000" stroke-width="1.3"/>
<path d="M988.5,187.9 L996.5,173.7 L980.5,173.7 Z" fill="#fff" stroke="#000" stroke-width="1.3"/>
<path d="M971.8,196.4 L979.8,182.2 L963.8,182.2 Z" fill="#fff" stroke="#000" stroke-width="1.3"/>
<path d="M956.8,205.9 L964.8,191.7 L948.8,191.7 Z" fill="#fff" stroke="#000" stroke-width="1.3"/>
<path d="M940.0,215.4 L948.0,201.2 L932.0,201.2 Z" fill="#fff" stroke="#000" stroke-width="1.3"/>
<path d="M915.9,226.8 L923.9,212.6 L907.9,212.6 Z" fill="#fff" stroke="#000" stroke-width="1.3"/>
<path d="M890.0,239.3 L898.0,225.1 L882.0,225.1 Z" fill="#fff" stroke="#000" stroke-width="1.3"/>
<path d="M860.4,249.8 L868.4,235.6 L852.4,235.6 Z" fill="#fff" stroke="#000" stroke-width="1.3"/>
<path d="M777.8,270.8 L785.8,256.6 L769.8,256.6 Z" fill="#fff" stroke="#000" stroke-width="1.3"/>
<path d="M699.2,293.1 L707.2,278.9 L691.2,278.9 Z" fill="#fff" stroke="#000" stroke-width="1.3"/>
<path d="M614.7,332.5 L622.7,318.3 L606.7,318.3 Z" fill="#fff" stroke="#000" stroke-width="1.3"/>
<path d="M526.8,439.7 L534.8,425.5 L518.8,425.5 Z" fill="#fff" stroke="#000" stroke-width="1.3"/>
<circle cx="135.0" cy="726.5" r="6.1" fill="#fff" stroke="#000" stroke-width="1.3"/>
<circle cx="135.0" cy="721.5" r="6.1" fill="#fff" stroke="#000" stroke-width="1.3"/>
<circle cx="135.0" cy="716.6" r="6.1" fill="#fff" stroke="#000" stroke-width="1.3"/>
<circle cx="135.0" cy="711.6" r="6.1" fill="#fff" stroke="#000" stroke-width="1.3"/>
<circle cx="135.1" cy="706.7" r="6.1" fill="#fff" stroke="#000" stroke-width="1.3"/>
<circle cx="135.1" cy="701.8" r="6.1" fill="#fff" stroke="#000" stroke-width="1.3"/>
<circle cx="135.2" cy="696.8" r="6.1" fill="#fff" stroke="#000" stroke-width="1.3"/>
<circle cx="135.2" cy="691.9" r="6.1" fill="#fff" stroke="#000" stroke-width="1.3"/>
<circle cx="135.3" cy="686.9" r="6.1" fill="#fff" stroke="#000" stroke-width="1.3"/>
<circle cx="135.4" cy="681.9" r="6.1" fill="#fff" stroke="#000" stroke-width="1.3"/>
<circle cx="135.6" cy="677.0" r="6.1" fill="#fff" stroke="#000" stroke-width="1.3"/>
<circle cx="135.7" cy="672.0" r="6.1" fill="#fff" stroke="#000" stroke-width="1.3"/>
<circle cx="135.9" cy="667.1" r="6.1" fill="#fff" stroke="#000" stroke-width="1.3"/>
<circle cx="136.1" cy="662.1" r="6.1" fill="#fff" stroke="#000" stroke-width="1.3"/>
<circle cx="136.3" cy="657.2" r="6.1" fill="#fff" stroke="#000" stroke-width="1.3"/>
<circle cx="136.5" cy="652.2" r="6.1" fill="#fff" stroke="#000" stroke-width="1.3"/>
<circle cx="136.8" cy="647.3" r="6.1" fill="#fff" stroke="#000" stroke-width="1.3"/>
<circle cx="137.4" cy="638.0" r="6.1" fill="#fff" stroke="#000" stroke-width="1.3"/>
<circle cx="143.6" cy="628.1" r="6.1" fill="#fff" stroke="#000" stroke-width="1.3"/>
<circle cx="153.5" cy="617.9" r="6.1" fill="#fff" stroke="#000" stroke-width="1.3"/>
<circle cx="172.4" cy="606.1" r="6.1" fill="#fff" stroke="#000" stroke-width="1.3"/>
<circle cx="190.1" cy="599.0" r="6.1" fill="#fff" stroke="#000" stroke-width="1.3"/>
<circle cx="202.5" cy="594.7" r="6.1" fill="#fff" stroke="#000" stroke-width="1.3"/>
<circle cx="237.5" cy="582.3" r="6.1" fill="#fff" stroke="#000" stroke-width="1.3"/>
<circle cx="255.2" cy="576.7" r="6.1" fill="#fff" stroke="#000" stroke-width="1.3"/>
<circle cx="272.8" cy="570.5" r="6.1" fill="#fff" stroke="#000" stroke-width="1.3"/>
<circle cx="306.9" cy="560.0" r="6.1" fill="#fff" stroke="#000" stroke-width="1.3"/>
<circle cx="341.0" cy="547.6" r="6.1" fill="#fff" stroke="#000" stroke-width="1.3"/>
<circle cx="392.9" cy="529.3" r="6.1" fill="#fff" stroke="#000" stroke-width="1.3"/>
<circle cx="428.5" cy="514.4" r="6.1" fill="#fff" stroke="#000" stroke-width="1.3"/>
<circle cx="516.5" cy="471.6" r="6.1" fill="#fff" stroke="#000" stroke-width="1.3"/>
<circle cx="617.8" cy="386.1" r="6.1" fill="#fff" stroke="#000" stroke-width="1.3"/>
<circle cx="707.0" cy="307.0" r="6.1" fill="#fff" stroke="#000" stroke-width="1.3"/>
<circle cx="791.5" cy="277.4" r="6.1" fill="#fff" stroke="#000" stroke-width="1.3"/>
<circle cx="837.6" cy="261.9" r="6.1" fill="#fff" stroke="#000" stroke-width="1.3"/>
<circle cx="857.8" cy="253.2" r="6.1" fill="#fff" stroke="#000" stroke-width="1.3"/>
<circle cx="889.8" cy="238.8" r="6.1" fill="#fff" stroke="#000" stroke-width="1.3"/>
<circle cx="915.9" cy="222.6" r="6.1" fill="#fff" stroke="#000" stroke-width="1.3"/>
<circle cx="933.1" cy="209.2" r="6.1" fill="#fff" stroke="#000" stroke-width="1.3"/>
<circle cx="946.3" cy="197.5" r="6.1" fill="#fff" stroke="#000" stroke-width="1.3"/>
<circle cx="956.8" cy="186.4" r="6.1" fill="#fff" stroke="#000" stroke-width="1.3"/>
<circle cx="967.6" cy="174.2" r="6.1" fill="#fff" stroke="#000" stroke-width="1.3"/>
<circle cx="972.6" cy="165.1" r="6.1" fill="#fff" stroke="#000" stroke-width="1.3"/>
<circle cx="976.8" cy="156.0" r="6.1" fill="#fff" stroke="#000" stroke-width="1.3"/>
<circle cx="980.1" cy="150.1" r="6.1" fill="#fff" stroke="#000" stroke-width="1.3"/>
<circle cx="984.3" cy="144.3" r="6.1" fill="#fff" stroke="#000" stroke-width="1.3"/>
<circle cx="986.0" cy="136.8" r="6.1" fill="#fff" stroke="#000" stroke-width="1.3"/>
<circle cx="988.8" cy="128.8" r="6.1" fill="#fff" stroke="#000" stroke-width="1.3"/>
<circle cx="972.6" cy="140.1" r="6.1" fill="#fff" stroke="#000" stroke-width="1.3"/>
<circle cx="959.6" cy="152.1" r="6.1" fill="#fff" stroke="#000" stroke-width="1.3"/>
<circle cx="943.0" cy="162.1" r="6.1" fill="#fff" stroke="#000" stroke-width="1.3"/>
<circle cx="934.7" cy="167.3" r="6.1" fill="#fff" stroke="#000" stroke-width="1.3"/>
<circle cx="916.7" cy="175.5" r="6.1" fill="#fff" stroke="#000" stroke-width="1.3"/>
<circle cx="890.4" cy="184.8" r="6.1" fill="#fff" stroke="#000" stroke-width="1.3"/>
<circle cx="860.4" cy="195.5" r="6.1" fill="#fff" stroke="#000" stroke-width="1.3"/>
<circle cx="779.7" cy="220.0" r="6.1" fill="#fff" stroke="#000" stroke-width="1.3"/>
<circle cx="699.0" cy="248.2" r="6.1" fill="#fff" stroke="#000" stroke-width="1.3"/>
<circle cx="614.0" cy="291.6" r="6.1" fill="#fff" stroke="#000" stroke-width="1.3"/>
<circle cx="529.0" cy="415.3" r="6.1" fill="#fff" stroke="#000" stroke-width="1.3"/>
<circle cx="436.9" cy="512.8" r="6.1" fill="#fff" stroke="#000" stroke-width="1.3"/>
<polygon points="135.0,719.3 136.9,723.9 141.8,724.3 138.1,727.5 139.2,732.3 135.0,729.7 130.8,732.3 131.9,727.5 128.2,724.3 133.1,723.9" fill="#fff" stroke="#000" stroke-width="1.2"/>
<polygon points="135.0,716.1 136.9,720.7 141.9,721.1 138.1,724.3 139.2,729.1 135.0,726.6 130.8,729.1 131.9,724.3 128.2,721.1 133.1,720.7" fill="#fff" stroke="#000" stroke-width="1.2"/>
<polygon points="135.0,712.9 136.9,717.5 141.9,717.9 138.1,721.2 139.2,726.0 135.0,723.4 130.8,726.0 131.9,721.2 128.2,717.9 133.1,717.5" fill="#fff" stroke="#000" stroke-width="1.2"/>
<polygon points="135.0,709.8 136.9,714.4 141.9,714.8 138.1,718.0 139.3,722.8 135.0,720.2 130.8,722.8 132.0,718.0 128.2,714.8 133.1,714.4" fill="#fff" stroke="#000" stroke-width="1.2"/>
<polygon points="135.1,706.6 137.0,711.2 141.9,711.6 138.2,714.8 139.3,719.6 135.1,717.0 130.8,719.6 132.0,714.8 128.2,711.6 133.2,711.2" fill="#fff" stroke="#000" stroke-width="1.2"/>
<polygon points="135.1,703.4 137.0,708.0 142.0,708.4 138.2,711.6 139.4,716.4 135.1,713.9 130.9,716.4 132.1,711.6 128.3,708.4 133.2,708.0" fill="#fff" stroke="#000" stroke-width="1.2"/>
<polygon points="135.2,700.2 137.1,704.8 142.1,705.2 138.3,708.5 139.5,713.3 135.2,710.7 131.0,713.3 132.1,708.5 128.4,705.2 133.3,704.8" fill="#fff" stroke="#000" stroke-width="1.2"/>
<polygon points="135.3,697.1 137.2,701.7 142.2,702.1 138.4,705.3 139.6,710.1 135.3,707.5 131.1,710.1 132.2,705.3 128.5,702.1 133.4,701.7" fill="#fff" stroke="#000" stroke-width="1.2"/>
<polygon points="135.5,693.9 137.4,698.5 142.3,698.9 138.5,702.1 139.7,706.9 135.5,704.3 131.2,706.9 132.4,702.1 128.6,698.9 133.6,698.5" fill="#fff" stroke="#000" stroke-width="1.2"/>
<polygon points="135.6,690.7 137.5,695.3 142.5,695.7 138.7,698.9 139.8,703.7 135.6,701.2 131.4,703.7 132.5,698.9 128.8,695.7 133.7,695.3" fill="#fff" stroke="#000" stroke-width="1.2"/>
<polygon points="135.8,687.5 137.7,692.1 142.6,692.5 138.9,695.8 140.0,700.6 135.8,698.0 131.6,700.6 132.7,695.8 128.9,692.5 133.9,692.1" fill="#fff" stroke="#000" stroke-width="1.2"/>
<polygon points="136.0,684.4 137.9,689.0 142.9,689.4 139.1,692.6 140.2,697.4 136.0,694.8 131.8,697.4 132.9,692.6 129.2,689.4 134.1,689.0" fill="#fff" stroke="#000" stroke-width="1.2"/>
<polygon points="136.3,681.2 138.2,685.8 143.1,686.2 139.3,689.4 140.5,694.2 136.3,691.6 132.0,694.2 133.2,689.4 129.4,686.2 134.4,685.8" fill="#fff" stroke="#000" stroke-width="1.2"/>
<polygon points="136.5,678.0 138.4,682.6 143.4,683.0 139.6,686.2 140.8,691.0 136.5,688.5 132.3,691.0 133.5,686.2 129.7,683.0 134.6,682.6" fill="#fff" stroke="#000" stroke-width="1.2"/>
<polygon points="136.8,674.8 138.7,679.4 143.7,679.8 139.9,683.1 141.1,687.9 136.8,685.3 132.6,687.9 133.8,683.1 130.0,679.8 134.9,679.4" fill="#fff" stroke="#000" stroke-width="1.2"/>
<polygon points="137.2,671.7 139.1,676.3 144.0,676.7 140.3,679.9 141.4,684.7 137.2,682.1 133.0,684.7 134.1,679.9 130.3,676.7 135.3,676.3" fill="#fff" stroke="#000" stroke-width="1.2"/>
<polygon points="137.6,668.5 139.5,673.1 144.4,673.5 140.7,676.7 141.8,681.5 137.6,678.9 133.3,681.5 134.5,676.7 130.7,673.5 135.7,673.1" fill="#fff" stroke="#000" stroke-width="1.2"/>
<polygon points="138.0,665.3 139.9,669.9 144.8,670.3 141.1,673.5 142.2,678.3 138.0,675.8 133.8,678.3 134.9,673.5 131.1,670.3 136.1,669.9" fill="#fff" stroke="#000" stroke-width="1.2"/>
<polygon points="138.5,662.1 140.4,666.7 145.3,667.1 141.5,670.4 142.7,675.2 138.5,672.6 134.2,675.2 135.4,670.4 131.6,667.1 136.6,666.7" fill="#fff" stroke="#000" stroke-width="1.2"/>
<polygon points="139.0,659.0 140.9,663.6 145.8,664.0 142.0,667.2 143.2,672.0 139.0,669.4 134.7,672.0 135.9,667.2 132.1,664.0 137.1,663.6" fill="#fff" stroke="#000" stroke-width="1.2"/>
<polygon points="139.5,655.8 141.4,660.4 146.3,660.8 142.6,664.0 143.7,668.8 139.5,666.2 135.3,668.8 136.4,664.0 132.7,660.8 137.6,660.4" fill="#fff" stroke="#000" stroke-width="1.2"/>
<polygon points="143.6,648.8 145.5,653.4 150.4,653.8 146.7,657.0 147.8,661.8 143.6,659.2 139.4,661.8 140.5,657.0 136.8,653.8 141.7,653.4" fill="#fff" stroke="#000" stroke-width="1.2"/>
<polygon points="152.3,640.4 154.2,645.0 159.1,645.4 155.4,648.6 156.5,653.4 152.3,650.8 148.1,653.4 149.2,648.6 145.5,645.4 150.4,645.0" fill="#fff" stroke="#000" stroke-width="1.2"/>
<polygon points="172.1,629.9 174.0,634.5 178.9,634.9 175.2,638.1 176.3,642.9 172.1,640.3 167.9,642.9 169.0,638.1 165.3,634.9 170.2,634.5" fill="#fff" stroke="#000" stroke-width="1.2"/>
<polygon points="193.2,622.8 195.1,627.4 200.0,627.8 196.3,631.0 197.4,635.8 193.2,633.2 189.0,635.8 190.1,631.0 186.4,627.8 191.3,627.4" fill="#fff" stroke="#000" stroke-width="1.2"/>
<polygon points="203.4,619.4 205.3,624.0 210.2,624.4 206.5,627.6 207.6,632.4 203.4,629.8 199.2,632.4 200.3,627.6 196.6,624.4 201.5,624.0" fill="#fff" stroke="#000" stroke-width="1.2"/>
<polygon points="238.7,609.5 240.6,614.1 245.5,614.5 241.8,617.7 242.9,622.5 238.7,619.9 234.5,622.5 235.6,617.7 231.9,614.5 236.8,614.1" fill="#fff" stroke="#000" stroke-width="1.2"/>
<polygon points="256.1,605.1 258.0,609.7 262.9,610.1 259.2,613.3 260.3,618.1 256.1,615.5 251.9,618.1 253.0,613.3 249.3,610.1 254.2,609.7" fill="#fff" stroke="#000" stroke-width="1.2"/>
<polygon points="272.8,600.8 274.7,605.4 279.6,605.8 275.9,609.0 277.0,613.8 272.8,611.2 268.6,613.8 269.7,609.0 266.0,605.8 270.9,605.4" fill="#fff" stroke="#000" stroke-width="1.2"/>
<polygon points="307.2,592.1 309.1,596.7 314.0,597.1 310.3,600.3 311.4,605.1 307.2,602.5 303.0,605.1 304.1,600.3 300.4,597.1 305.3,596.7" fill="#fff" stroke="#000" stroke-width="1.2"/>
<polygon points="330.1,585.0 332.0,589.6 336.9,590.0 333.2,593.2 334.3,598.0 330.1,595.4 325.9,598.0 327.0,593.2 323.3,590.0 328.2,589.6" fill="#fff" stroke="#000" stroke-width="1.2"/>
<polygon points="341.9,582.8 343.8,587.4 348.7,587.8 345.0,591.0 346.1,595.8 341.9,593.2 337.7,595.8 338.8,591.0 335.1,587.8 340.0,587.4" fill="#fff" stroke="#000" stroke-width="1.2"/>
<polygon points="393.5,568.5 395.4,573.1 400.3,573.5 396.6,576.7 397.7,581.5 393.5,578.9 389.3,581.5 390.4,576.7 386.7,573.5 391.6,573.1" fill="#fff" stroke="#000" stroke-width="1.2"/>
<polygon points="432.3,555.8 434.2,560.4 439.1,560.8 435.4,564.0 436.5,568.8 432.3,566.2 428.1,568.8 429.2,564.0 425.5,560.8 430.4,560.4" fill="#fff" stroke="#000" stroke-width="1.2"/>
<polygon points="520.6,522.1 522.5,526.7 527.4,527.1 523.7,530.3 524.8,535.1 520.6,532.5 516.4,535.1 517.5,530.3 513.8,527.1 518.7,526.7" fill="#fff" stroke="#000" stroke-width="1.2"/>
<polygon points="605.0,464.8 606.9,469.4 611.8,469.8 608.1,473.0 609.2,477.8 605.0,475.2 600.8,477.8 601.9,473.0 598.2,469.8 603.1,469.4" fill="#fff" stroke="#000" stroke-width="1.2"/>
<polygon points="695.2,379.8 697.1,384.4 702.0,384.8 698.3,388.0 699.4,392.8 695.2,390.2 691.0,392.8 692.1,388.0 688.4,384.8 693.3,384.4" fill="#fff" stroke="#000" stroke-width="1.2"/>
<polygon points="788.8,332.5 790.7,337.1 795.6,337.5 791.9,340.7 793.0,345.5 788.8,342.9 784.6,345.5 785.7,340.7 782.0,337.5 786.9,337.1" fill="#fff" stroke="#000" stroke-width="1.2"/>
<polygon points="840.0,314.2 841.9,318.8 846.8,319.2 843.1,322.4 844.2,327.2 840.0,324.6 835.8,327.2 836.9,322.4 833.2,319.2 838.1,318.8" fill="#fff" stroke="#000" stroke-width="1.2"/>
<polygon points="857.0,306.3 858.9,310.9 863.8,311.3 860.1,314.5 861.2,319.3 857.0,316.7 852.8,319.3 853.9,314.5 850.2,311.3 855.1,310.9" fill="#fff" stroke="#000" stroke-width="1.2"/>
<polygon points="889.8,289.8 891.7,294.4 896.6,294.8 892.9,298.0 894.0,302.8 889.8,300.2 885.6,302.8 886.7,298.0 883.0,294.8 887.9,294.4" fill="#fff" stroke="#000" stroke-width="1.2"/>
<polygon points="914.2,273.3 916.1,277.9 921.0,278.3 917.3,281.5 918.4,286.3 914.2,283.7 910.0,286.3 911.1,281.5 907.4,278.3 912.3,277.9" fill="#fff" stroke="#000" stroke-width="1.2"/>
<polygon points="932.6,259.2 934.5,263.8 939.4,264.2 935.7,267.4 936.8,272.2 932.6,269.6 928.4,272.2 929.5,267.4 925.8,264.2 930.7,263.8" fill="#fff" stroke="#000" stroke-width="1.2"/>
<polygon points="945.9,245.9 947.8,250.5 952.7,250.9 949.0,254.1 950.1,258.9 945.9,256.3 941.7,258.9 942.8,254.1 939.1,250.9 944.0,250.5" fill="#fff" stroke="#000" stroke-width="1.2"/>
<polygon points="956.8,233.7 958.7,238.3 963.6,238.7 959.9,241.9 961.0,246.7 956.8,244.1 952.6,246.7 953.7,241.9 950.0,238.7 954.9,238.3" fill="#fff" stroke="#000" stroke-width="1.2"/>
<polygon points="966.8,221.2 968.7,225.8 973.6,226.2 969.9,229.4 971.0,234.2 966.8,231.6 962.6,234.2 963.7,229.4 960.0,226.2 964.9,225.8" fill="#fff" stroke="#000" stroke-width="1.2"/>
<polygon points="971.8,212.0 973.7,216.6 978.6,217.0 974.9,220.2 976.0,225.0 971.8,222.4 967.6,225.0 968.7,220.2 965.0,217.0 969.9,216.6" fill="#fff" stroke="#000" stroke-width="1.2"/>
<polygon points="976.8,202.8 978.7,207.4 983.6,207.8 979.9,211.0 981.0,215.8 976.8,213.2 972.6,215.8 973.7,211.0 970.0,207.8 974.9,207.4" fill="#fff" stroke="#000" stroke-width="1.2"/>
<polygon points="981.0,193.7 982.9,198.3 987.8,198.7 984.1,201.9 985.2,206.7 981.0,204.1 976.8,206.7 977.9,201.9 974.2,198.7 979.1,198.3" fill="#fff" stroke="#000" stroke-width="1.2"/>
<polygon points="985.0,185.3 986.9,189.9 991.8,190.3 988.1,193.5 989.2,198.3 985.0,195.7 980.8,198.3 981.9,193.5 978.2,190.3 983.1,189.9" fill="#fff" stroke="#000" stroke-width="1.2"/>
<polygon points="987.6,177.8 989.5,182.4 994.4,182.8 990.7,186.0 991.8,190.8 987.6,188.2 983.4,190.8 984.5,186.0 980.8,182.8 985.7,182.4" fill="#fff" stroke="#000" stroke-width="1.2"/>
<polygon points="988.8,171.3 990.7,175.9 995.6,176.3 991.9,179.5 993.0,184.3 988.8,181.7 984.6,184.3 985.7,179.5 982.0,176.3 986.9,175.9" fill="#fff" stroke="#000" stroke-width="1.2"/>
<polygon points="980.0,180.3 981.9,184.9 986.8,185.3 983.1,188.5 984.2,193.3 980.0,190.7 975.8,193.3 976.9,188.5 973.2,185.3 978.1,184.9" fill="#fff" stroke="#000" stroke-width="1.2"/>
<polygon points="970.1,187.8 972.0,192.4 976.9,192.8 973.2,196.0 974.3,200.8 970.1,198.2 965.9,200.8 967.0,196.0 963.3,192.8 968.2,192.4" fill="#fff" stroke="#000" stroke-width="1.2"/>
<polygon points="950.0,204.5 951.9,209.1 956.8,209.5 953.1,212.7 954.2,217.5 950.0,214.9 945.8,217.5 946.9,212.7 943.2,209.5 948.1,209.1" fill="#fff" stroke="#000" stroke-width="1.2"/>
<polygon points="929.2,218.7 931.1,223.3 936.0,223.7 932.3,226.9 933.4,231.7 929.2,229.1 925.0,231.7 926.1,226.9 922.4,223.7 927.3,223.3" fill="#fff" stroke="#000" stroke-width="1.2"/>
<polygon points="915.0,226.2 916.9,230.8 921.8,231.2 918.1,234.4 919.2,239.2 915.0,236.6 910.8,239.2 911.9,234.4 908.2,231.2 913.1,230.8" fill="#fff" stroke="#000" stroke-width="1.2"/>
<polygon points="889.7,238.7 891.6,243.3 896.5,243.7 892.8,246.9 893.9,251.7 889.7,249.1 885.5,251.7 886.6,246.9 882.9,243.7 887.8,243.3" fill="#fff" stroke="#000" stroke-width="1.2"/>
<polygon points="860.4,250.8 862.3,255.4 867.2,255.8 863.5,259.0 864.6,263.8 860.4,261.2 856.2,263.8 857.3,259.0 853.6,255.8 858.5,255.4" fill="#fff" stroke="#000" stroke-width="1.2"/>
<polygon points="825.0,262.5 826.9,267.1 831.8,267.5 828.1,270.7 829.2,275.5 825.0,272.9 820.8,275.5 821.9,270.7 818.2,267.5 823.1,267.1" fill="#fff" stroke="#000" stroke-width="1.2"/>
<polygon points="773.9,280.9 775.8,285.5 780.7,285.9 777.0,289.1 778.1,293.9 773.9,291.3 769.7,293.9 770.8,289.1 767.1,285.9 772.0,285.5" fill="#fff" stroke="#000" stroke-width="1.2"/>
<polygon points="696.6,311.6 698.5,316.2 703.4,316.6 699.7,319.8 700.8,324.6 696.6,322.0 692.4,324.6 693.5,319.8 689.8,316.6 694.7,316.2" fill="#fff" stroke="#000" stroke-width="1.2"/>
<polygon points="613.7,364.3 615.6,368.9 620.5,369.3 616.8,372.5 617.9,377.3 613.7,374.7 609.5,377.3 610.6,372.5 606.9,369.3 611.8,368.9" fill="#fff" stroke="#000" stroke-width="1.2"/>
<polygon points="518.4,500.4 520.3,505.0 525.2,505.4 521.5,508.6 522.6,513.4 518.4,510.8 514.2,513.4 515.3,508.6 511.6,505.4 516.5,505.0" fill="#fff" stroke="#000" stroke-width="1.2"/>
<polygon points="435.4,553.7 437.3,558.3 442.2,558.7 438.5,561.9 439.6,566.7 435.4,564.1 431.2,566.7 432.3,561.9 428.6,558.7 433.5,558.3" fill="#fff" stroke="#000" stroke-width="1.2"/>
</g>
<g id="axes">
<path d="M134.5,27.7 V728.4" stroke="#000" stroke-width="2.8"/>
<path d="M133.1,727.2 H997.8" stroke="#000" stroke-width="2.8"/>
<path d="M134.5,727.2 h-13.5" stroke="#000" stroke-width="2.6"/>
<text x="112.5" y="734.1" font-family="Liberation Sans, sans-serif" font-size="27" fill="#111" text-anchor="end">0</text>
<path d="M134.5,688.4 h-7.5" stroke="#000" stroke-width="2.4"/>
<path d="M134.5,649.5 h-13.5" stroke="#000" stroke-width="2.6"/>
<text x="112.5" y="656.4" font-family="Liberation Sans, sans-serif" font-size="27" fill="#111" text-anchor="end">20</text>
<path d="M134.5,610.7 h-7.5" stroke="#000" stroke-width="2.4"/>
<path d="M134.5,571.9 h-13.5" stroke="#000" stroke-width="2.6"/>
<text x="112.5" y="578.8" font-family="Liberation Sans, sans-serif" font-size="27" fill="#111" text-anchor="end">40</text>
<path d="M134.5,533.0 h-7.5" stroke="#000" stroke-width="2.4"/>
<path d="M134.5,494.2 h-13.5" stroke="#000" stroke-width="2.6"/>
<text x="112.5" y="501.1" font-family="Liberation Sans, sans-serif" font-size="27" fill="#111" text-anchor="end">60</text>
<path d="M134.5,455.4 h-7.5" stroke="#000" stroke-width="2.4"/>
<path d="M134.5,416.5 h-13.5" stroke="#000" stroke-width="2.6"/>
<text x="112.5" y="423.4" font-family="Liberation Sans, sans-serif" font-size="27" fill="#111" text-anchor="end">80</text>
<path d="M134.5,377.7 h-7.5" stroke="#000" stroke-width="2.4"/>
<path d="M134.5,338.9 h-13.5" stroke="#000" stroke-width="2.6"/>
<text x="112.5" y="345.8" font-family="Liberation Sans, sans-serif" font-size="27" fill="#111" text-anchor="end">100</text>
<path d="M134.5,300.0 h-7.5" stroke="#000" stroke-width="2.4"/>
<path d="M134.5,261.2 h-13.5" stroke="#000" stroke-width="2.6"/>
<text x="112.5" y="268.1" font-family="Liberation Sans, sans-serif" font-size="27" fill="#111" text-anchor="end">120</text>
<path d="M134.5,222.4 h-7.5" stroke="#000" stroke-width="2.4"/>
<path d="M134.5,183.5 h-13.5" stroke="#000" stroke-width="2.6"/>
<text x="112.5" y="190.4" font-family="Liberation Sans, sans-serif" font-size="27" fill="#111" text-anchor="end">140</text>
<path d="M134.5,144.7 h-7.5" stroke="#000" stroke-width="2.4"/>
<path d="M134.5,105.9 h-13.5" stroke="#000" stroke-width="2.6"/>
<text x="112.5" y="112.8" font-family="Liberation Sans, sans-serif" font-size="27" fill="#111" text-anchor="end">160</text>
<path d="M134.5,67.0 h-7.5" stroke="#000" stroke-width="2.4"/>
<path d="M134.5,28.2 h-13.5" stroke="#000" stroke-width="2.6"/>
<text x="112.5" y="35.1" font-family="Liberation Sans, sans-serif" font-size="27" fill="#111" text-anchor="end">180</text>
<path d="M134.5,727.2 v14" stroke="#000" stroke-width="2.6"/>
<text x="134.5" y="771.5" font-family="Liberation Sans, sans-serif" font-size="27" fill="#111" text-anchor="middle">0.0</text>
<path d="M220.7,727.2 v7.5" stroke="#000" stroke-width="2.4"/>
<path d="M306.9,727.2 v14" stroke="#000" stroke-width="2.6"/>
<text x="306.9" y="771.5" font-family="Liberation Sans, sans-serif" font-size="27" fill="#111" text-anchor="middle">0.2</text>
<path d="M393.1,727.2 v7.5" stroke="#000" stroke-width="2.4"/>
<path d="M479.3,727.2 v14" stroke="#000" stroke-width="2.6"/>
<text x="479.3" y="771.5" font-family="Liberation Sans, sans-serif" font-size="27" fill="#111" text-anchor="middle">0.4</text>
<path d="M565.5,727.2 v7.5" stroke="#000" stroke-width="2.4"/>
<path d="M651.7,727.2 v14" stroke="#000" stroke-width="2.6"/>
<text x="651.7" y="771.5" font-family="Liberation Sans, sans-serif" font-size="27" fill="#111" text-anchor="middle">0.6</text>
<path d="M737.9,727.2 v7.5" stroke="#000" stroke-width="2.4"/>
<path d="M824.1,727.2 v14" stroke="#000" stroke-width="2.6"/>
<text x="824.1" y="771.5" font-family="Liberation Sans, sans-serif" font-size="27" fill="#111" text-anchor="middle">0.8</text>
<path d="M910.3,727.2 v7.5" stroke="#000" stroke-width="2.4"/>
<path d="M996.5,727.2 v14" stroke="#000" stroke-width="2.6"/>
<text x="996.5" y="771.5" font-family="Liberation Sans, sans-serif" font-size="27" fill="#111" text-anchor="middle">1.0</text>
<text x="565.3" y="822.5" font-family="Liberation Sans, sans-serif" font-size="32.2" fill="#111" text-anchor="middle">Realtive Presure (P/Po)</text>
<text transform="translate(44.2,402.8) rotate(-90)" font-family="Liberation Sans, sans-serif" font-size="32.2" fill="#111" text-anchor="middle">Quantity adsorbed (cm<tspan font-size="20" dy="-13.5">3</tspan><tspan dy="13.5">/g)STP</tspan></text>
</g>
<g id="legend">
<path d="M673.7,566.7 H745.4" stroke="#555" stroke-width="1"/>
<path d="M710.2,558.0 L718.5,572.7 L701.9,572.7 Z" fill="#000" stroke="#000" stroke-width="1"/>
<path d="M673.7,617.9 H745.4" stroke="#555" stroke-width="1"/>
<path d="M710.2,626.6 L718.5,611.9 L701.9,611.9 Z" fill="#fff" stroke="#000" stroke-width="1.3"/>
<path d="M673.7,658.9 H745.4" stroke="#555" stroke-width="1"/>
<circle cx="710.2" cy="658.9" r="6.4" fill="#fff" stroke="#000" stroke-width="1.3"/>
<path d="M673.7,697.9 H745.4" stroke="#555" stroke-width="1"/>
<polygon points="710.2,690.3 712.2,695.1 717.4,695.6 713.5,699.0 714.7,704.0 710.2,701.3 705.7,704.0 706.9,699.0 703.0,695.6 708.2,695.1" fill="#fff" stroke="#000" stroke-width="1.2"/>
<text x="755" y="577.6" font-family="Liberation Sans, sans-serif" font-size="32.4" fill="#111">Al<tspan font-size="18.5" dy="13">2</tspan><tspan dy="-13">O</tspan><tspan font-size="18.5" dy="13">3</tspan></text>
<text x="755" y="629" font-family="Liberation Sans, sans-serif" font-size="32.4" fill="#111">MnAl T400</text>
<text x="755" y="668.6" font-family="Liberation Sans, sans-serif" font-size="32.4" fill="#111">MnAl T400W</text>
<text x="755" y="708.3" font-family="Liberation Sans, sans-serif" font-size="32.4" fill="#111">MnAl T400W600</text>
</g>
</svg>
</body></html>
